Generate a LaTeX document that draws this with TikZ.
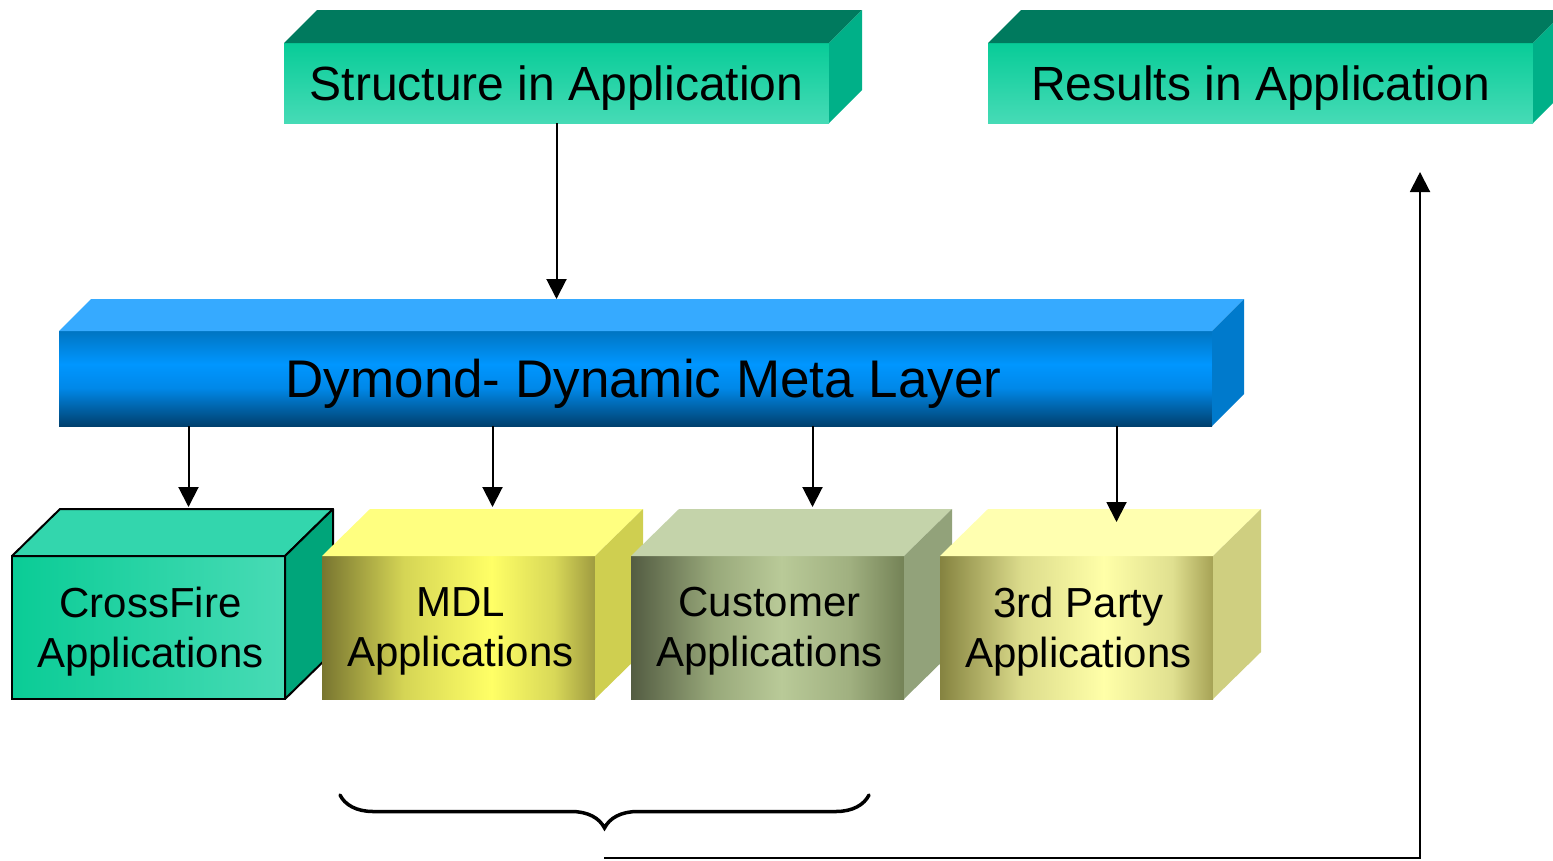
\documentclass[tikz,border=0pt]{standalone}
\usepackage{fontspec}
\setmainfont{Liberation Sans}
\usetikzlibrary{arrows.meta,decorations.pathreplacing,calc}

% colours
\definecolor{strT}{HTML}{08CC98}
\definecolor{strB}{HTML}{46DBB6}
\definecolor{strTop}{HTML}{007A5E}
\definecolor{strSide}{HTML}{00B088}
\definecolor{dymT}{HTML}{0075C2}
\definecolor{dymM}{HTML}{0096FF}
\definecolor{dymL}{HTML}{0088E8}
\definecolor{dymB}{HTML}{00406E}
\definecolor{dymTop}{HTML}{36AAFF}
\definecolor{dymSide}{HTML}{007ACC}
\definecolor{cfA}{HTML}{0ACC96}
\definecolor{cfB}{HTML}{48DBB5}
\definecolor{cfTop}{HTML}{33D6AD}
\definecolor{cfSide}{HTML}{00A57A}
\definecolor{mdlA}{HTML}{787530}
\definecolor{mdlB}{HTML}{D5D555}
\definecolor{mdlC}{HTML}{FFFF66}
\definecolor{mdlD}{HTML}{D8D858}
\definecolor{mdlE}{HTML}{9F9B40}
\definecolor{mdlTop}{HTML}{FFFF80}
\definecolor{mdlSide}{HTML}{CFCF50}
\definecolor{cuA}{HTML}{535C42}
\definecolor{cuB}{HTML}{98A87A}
\definecolor{cuC}{HTML}{B9CA98}
\definecolor{cuD}{HTML}{A0B080}
\definecolor{cuE}{HTML}{748256}
\definecolor{cuTop}{HTML}{C4D3AA}
\definecolor{cuSide}{HTML}{92A27A}
\definecolor{tpA}{HTML}{858340}
\definecolor{tpB}{HTML}{DCDC8C}
\definecolor{tpC}{HTML}{FFFFA8}
\definecolor{tpD}{HTML}{E0E090}
\definecolor{tpE}{HTML}{A6A255}
\definecolor{tpTop}{HTML}{FFFFB0}
\definecolor{tpSide}{HTML}{CFCF80}

% shadings (path bounding box = 25bp..75bp)
\pgfdeclareverticalshading{strgrad}{100bp}{color(0bp)=(strB); color(25bp)=(strB); color(75bp)=(strT); color(100bp)=(strT)}
\pgfdeclareverticalshading{dymgrad}{100bp}{color(0bp)=(dymB); color(25bp)=(dymB); color(45bp)=(dymL); color(57.5bp)=(dymM); color(75bp)=(dymT); color(100bp)=(dymT)}
\pgfdeclarehorizontalshading{cfgrad}{100bp}{color(0bp)=(cfA); color(25bp)=(cfA); color(75bp)=(cfB); color(100bp)=(cfB)}
\pgfdeclarehorizontalshading{mdlgrad}{100bp}{color(0bp)=(mdlA); color(25bp)=(mdlA); color(40bp)=(mdlB); color(56bp)=(mdlC); color(67.5bp)=(mdlD); color(75bp)=(mdlE); color(100bp)=(mdlE)}
\pgfdeclarehorizontalshading{cugrad}{100bp}{color(0bp)=(cuA); color(25bp)=(cuA); color(40bp)=(cuB); color(52.5bp)=(cuC); color(65bp)=(cuD); color(75bp)=(cuE); color(100bp)=(cuE)}
\pgfdeclarehorizontalshading{tpgrad}{100bp}{color(0bp)=(tpA); color(25bp)=(tpA); color(40bp)=(tpB); color(55bp)=(tpC); color(67.5bp)=(tpD); color(75bp)=(tpE); color(100bp)=(tpE)}

\newcommand\boxfaces[5]{%
  \path[#4] (#1.north west) -- ++(#2,-#3) -- ([shift={(#2,-#3)}]#1.north east) -- (#1.north east) -- cycle;
  \path[#5] (#1.north east) -- ++(#2,-#3) -- ([shift={(#2,-#3)}]#1.south east) -- (#1.south east) -- cycle;
}

\tikzset{
  face/.style={inner sep=0pt, outer sep=0pt, anchor=north west, shade},
  bigbox/.style={face, minimum width=545pt, minimum height=80pt, shading=strgrad},
  cubebox/.style={face, minimum width=273pt, minimum height=143pt},
  lbl/.style={inner sep=0pt, align=center, text=black},
  toplbl/.style={lbl, font=\fontsize{48}{58}\selectfont},
  cubelbl/.style={lbl, font=\fontsize{42}{50}\selectfont},
  arr/.style={draw=black, line width=2pt, -{Triangle[length=20pt,width=20pt]}},
  bracestyle/.style={draw=black, line width=3.5pt, line cap=round,
    decorate, decoration={brace, amplitude=33pt, mirror}},
}

\begin{document}
\begin{tikzpicture}[x=1pt, y=-1pt]
\useasboundingbox (0,0) rectangle (1553,860);
\clip (0,0) rectangle (1553,860);

% top boxes
\node[bigbox] (str) at (284,43) {};
\boxfaces{str}{33}{33}{fill=strTop}{fill=strSide}
\node[toplbl] (strT) at ([shift={(0,5)}]str.center) {Structure in Application};

\node[bigbox] (res) at (988,43) {};
\boxfaces{res}{33}{33}{fill=strTop}{fill=strSide}
\node[toplbl] (resT) at ([shift={(0,5)}]res.center) {Results in Application};

% Dymond layer
\node[face, minimum width=1153pt, minimum height=95pt, shading=dymgrad] (dym) at (59,331) {};
\boxfaces{dym}{32}{32}{fill=dymTop}{fill=dymSide}
\node[lbl, font=\fontsize{53}{64}\selectfont] (dymT) at ([shift={(8,5)}]dym.center) {Dymond- Dynamic Meta Layer};

% cubes
\node[cubebox, shading=cfgrad, draw=black, line width=2pt] (cf) at (12,556) {};
\boxfaces{cf}{48}{47}{fill=cfTop, draw=black, line width=2pt, line join=round}{fill=cfSide, draw=black, line width=2pt, line join=round}
\node[cubelbl] (cfT) at ([shift={(2,4)}]cf.center) {CrossFire\\Applications};

\node[cubebox, shading=mdlgrad] (mdl) at (322,556) {};
\boxfaces{mdl}{48}{47}{fill=mdlTop}{fill=mdlSide}
\node[cubelbl] (mdlT) at ([shift={(2,4)}]mdl.center) {MDL\\Applications};

\node[cubebox, shading=cugrad] (cu) at (631,556) {};
\boxfaces{cu}{48}{47}{fill=cuTop}{fill=cuSide}
\node[cubelbl] (cuT) at ([shift={(2,4)}]cu.center) {Customer\\Applications};

\node[cubebox, shading=tpgrad] (tp) at (940,556) {};
\boxfaces{tp}{48}{47}{fill=tpTop}{fill=tpSide}
\node[cubelbl] (tpT) at ([shift={(2,4)}]tp.center) {3rd Party\\Applications};

% arrow targets
\coordinate (dymback) at ([shift={(32,-32)}]dym.north west);
\coordinate (cfin) at ([shift={(40,-49)}]cf.north);
\coordinate (mdlin) at ([shift={(34,-49)}]mdl.north);
\coordinate (cuin) at ([shift={(45,-49)}]cu.north);
\coordinate (tpin) at ([shift={(40,-34)}]tp.north);

\draw[arr] (str.south) -- (str.south |- dymback);
\draw[arr] (dym.south -| cfin) -- (cfin);
\draw[arr] (dym.south -| mdlin) -- (mdlin);
\draw[arr] (dym.south -| cuin) -- (cuin);
\draw[arr] (dym.south -| tpin) -- (tpin);

% brace and return arrow
\coordinate (bl) at (340,795);
\coordinate (br) at (869,795);
\draw[bracestyle] (bl) -- (br);
\coordinate (bt) at (604,858);
\coordinate (rtop) at (1420,172);
\draw[arr] (bt) -| (rtop);
\end{tikzpicture}
\end{document}
